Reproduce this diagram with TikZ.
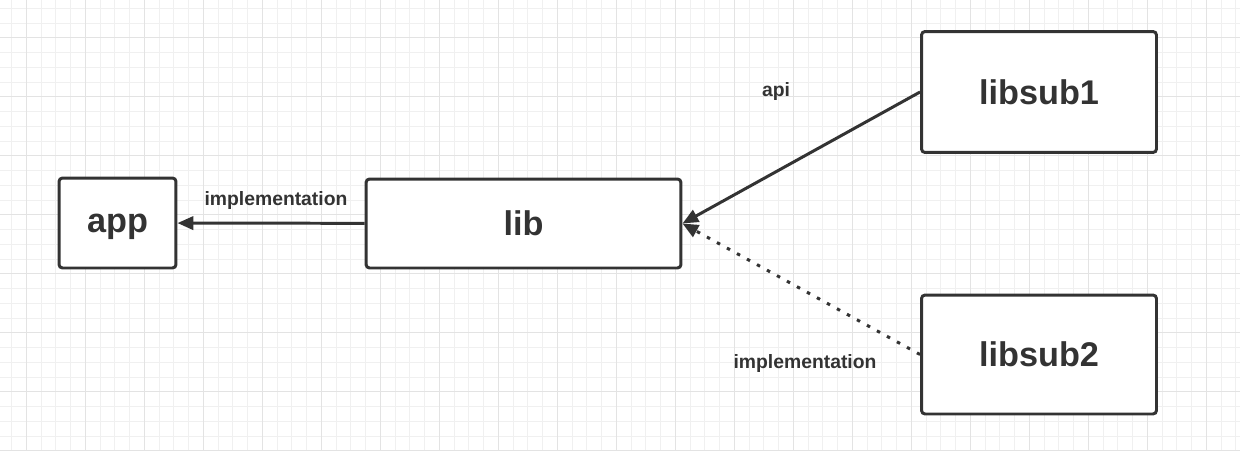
\documentclass[tikz,border=0pt]{standalone}
\usepackage{fontspec}
\setmainfont{Liberation Sans}
\usetikzlibrary{arrows.meta}
\definecolor{ink}{HTML}{333333}
\definecolor{minorgrid}{HTML}{F0F0F0}
\definecolor{majorgrid}{HTML}{E3E3E3}
\begin{document}
\begin{tikzpicture}[
    x=0.02cm, y=-0.02cm,
    every node/.style={text=ink, font=\bfseries},
    box/.style={draw=ink, line width=1.7pt, rounded corners=2pt, fill=white, font=\fontsize{19.5}{22}\bfseries\selectfont},
    link/.style={draw=ink, line width=1.7pt, -{Triangle[length=9pt,width=7.5pt]}},
    tag/.style={font=\fontsize{11}{13}\bfseries\selectfont}]

\useasboundingbox[fill=white] (0,0) rectangle (1240,450);
% background grid
\foreach \k in {0,...,84} {\draw[minorgrid, line width=0.6pt] (11.7+14.75*\k,0) -- (11.7+14.75*\k,450);}
\foreach \k in {0,...,30} {\draw[minorgrid, line width=0.6pt] (0,8.3+14.75*\k) -- (1240,8.3+14.75*\k);}
\foreach \k in {0,...,20} {\draw[majorgrid, line width=0.8pt] (26.4+59*\k,0) -- (26.4+59*\k,450);}
\foreach \k in {0,...,7} {\draw[majorgrid, line width=0.8pt] (0,37.7+59*\k) -- (1240,37.7+59*\k);}

\node[box, minimum width=2.34cm, minimum height=1.8cm, text depth=0pt] (app) at (117.5,223) {app};
\node[box, minimum width=6.3cm, minimum height=1.78cm] (lib) at (523.5,223.5) {lib};
\node[box, minimum width=4.7cm, minimum height=2.42cm] (libsub1) at (1039,92) {libsub1};
\node[box, minimum width=4.7cm, minimum height=2.38cm] (libsub2) at (1039,354.5) {libsub2};

\draw[link] (lib) -- (app);
\draw[link] (libsub1.west) -- (lib.east);
\draw[link, dash pattern=on 2pt off 4.5pt] (libsub2.west) -- (lib.east);

\node[tag] (apitag) at (776,91) {api};
\node[tag] (impltop) at (276,200) {implementation};
\node[tag] (implbot) at (805,363) {implementation};

\end{tikzpicture}
\end{document}
